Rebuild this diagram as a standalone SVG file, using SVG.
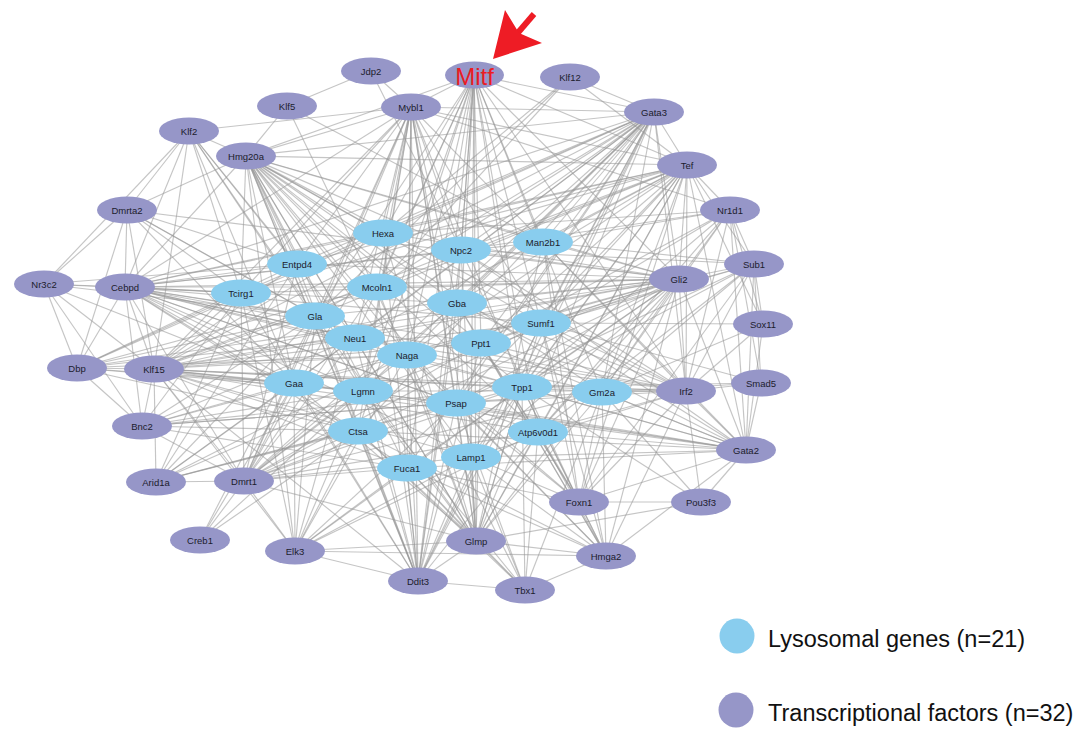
<svg xmlns="http://www.w3.org/2000/svg" width="1082" height="729" viewBox="0 0 1082 729">
<style>
#edges path{stroke:#959595;stroke-opacity:.55;stroke-width:1.15;fill:none}
.tf{fill:#9696c8}
.ly{fill:#89cdee}
.lb{font-family:"Liberation Sans",Arial,sans-serif;font-size:9.5px;fill:#1c1c2c;text-anchor:middle}
.lg{font-family:"Liberation Sans",Arial,sans-serif;font-size:23.5px;fill:#111}
</style>
<rect width="1082" height="729" fill="#fff"/>
<g id="edges">
<path d="M371 71L411 107"/><path d="M371 71L287 106"/><path d="M371 71L461 250"/>
<path d="M474 75L383 233"/><path d="M474 75L461 250"/><path d="M474 75L543 242"/><path d="M474 75L377 287"/><path d="M474 75L457 303"/><path d="M474 75L541 323"/><path d="M474 75L481 343"/><path d="M474 75L407 355"/><path d="M474 75L522 387"/><path d="M474 75L456 403"/><path d="M474 75L358 431"/><path d="M474 75L538 432"/><path d="M474 75L471 457"/><path d="M474 75L407 468"/><path d="M474 75L355 338"/><path d="M474 75L363 391"/><path d="M474 75L602 392"/><path d="M474 75L315 316"/><path d="M474 75L654 112"/><path d="M474 75L687 165"/><path d="M474 75L411 107"/><path d="M474 75L246 156"/><path d="M474 75L679 279"/><path d="M474 75L686 391"/><path d="M474 75L476 541"/><path d="M474 75L418 581"/>
<path d="M570 77L654 112"/><path d="M570 77L377 287"/><path d="M570 77L315 316"/><path d="M570 77L687 165"/><path d="M570 77L383 233"/>
<path d="M287 106L246 156"/><path d="M287 106L543 242"/><path d="M287 106L407 355"/>
<path d="M411 107L189 131"/><path d="M411 107L246 156"/><path d="M411 107L383 233"/><path d="M411 107L297 264"/><path d="M411 107L241 293"/><path d="M411 107L377 287"/><path d="M411 107L315 316"/><path d="M411 107L355 338"/><path d="M411 107L407 355"/><path d="M411 107L457 303"/><path d="M411 107L461 250"/><path d="M411 107L294 383"/><path d="M411 107L363 391"/><path d="M411 107L456 403"/><path d="M411 107L358 431"/><path d="M411 107L407 468"/><path d="M411 107L541 323"/><path d="M411 107L543 242"/><path d="M411 107L522 387"/><path d="M411 107L471 457"/><path d="M411 107L654 112"/><path d="M411 107L687 165"/><path d="M411 107L730 210"/><path d="M411 107L125 287"/><path d="M411 107L154 369"/><path d="M411 107L244 481"/><path d="M411 107L476 541"/><path d="M411 107L418 581"/>
<path d="M654 112L687 165"/><path d="M654 112L246 156"/><path d="M654 112L383 233"/><path d="M654 112L461 250"/><path d="M654 112L543 242"/><path d="M654 112L297 264"/><path d="M654 112L241 293"/><path d="M654 112L377 287"/><path d="M654 112L457 303"/><path d="M654 112L315 316"/><path d="M654 112L541 323"/><path d="M654 112L355 338"/><path d="M654 112L481 343"/><path d="M654 112L407 355"/><path d="M654 112L294 383"/><path d="M654 112L363 391"/><path d="M654 112L522 387"/><path d="M654 112L456 403"/><path d="M654 112L358 431"/><path d="M654 112L471 457"/><path d="M654 112L407 468"/><path d="M654 112L602 392"/><path d="M654 112L125 287"/><path d="M654 112L154 369"/><path d="M654 112L244 481"/><path d="M654 112L679 279"/><path d="M654 112L686 391"/><path d="M654 112L476 541"/><path d="M654 112L418 581"/>
<path d="M189 131L246 156"/><path d="M189 131L127 210"/><path d="M189 131L44 284"/><path d="M189 131L241 293"/><path d="M189 131L297 264"/><path d="M189 131L315 316"/><path d="M189 131L294 383"/><path d="M189 131L355 338"/><path d="M189 131L125 287"/><path d="M189 131L154 369"/><path d="M189 131L363 391"/>
<path d="M246 156L687 165"/><path d="M246 156L383 233"/><path d="M246 156L461 250"/><path d="M246 156L543 242"/><path d="M246 156L297 264"/><path d="M246 156L241 293"/><path d="M246 156L377 287"/><path d="M246 156L457 303"/><path d="M246 156L315 316"/><path d="M246 156L541 323"/><path d="M246 156L355 338"/><path d="M246 156L481 343"/><path d="M246 156L407 355"/><path d="M246 156L294 383"/><path d="M246 156L363 391"/><path d="M246 156L522 387"/><path d="M246 156L602 392"/><path d="M246 156L456 403"/><path d="M246 156L358 431"/><path d="M246 156L538 432"/><path d="M246 156L471 457"/><path d="M246 156L407 468"/><path d="M246 156L679 279"/><path d="M246 156L686 391"/><path d="M246 156L127 210"/><path d="M246 156L125 287"/><path d="M246 156L476 541"/><path d="M246 156L418 581"/><path d="M246 156L295 551"/>
<path d="M687 165L730 210"/><path d="M687 165L679 279"/><path d="M687 165L754 264"/><path d="M687 165L383 233"/><path d="M687 165L461 250"/><path d="M687 165L543 242"/><path d="M687 165L297 264"/><path d="M687 165L377 287"/><path d="M687 165L457 303"/><path d="M687 165L541 323"/><path d="M687 165L481 343"/><path d="M687 165L407 355"/><path d="M687 165L522 387"/><path d="M687 165L602 392"/><path d="M687 165L456 403"/><path d="M687 165L538 432"/><path d="M687 165L471 457"/><path d="M687 165L355 338"/><path d="M687 165L315 316"/><path d="M687 165L686 391"/><path d="M687 165L746 450"/><path d="M687 165L125 287"/><path d="M687 165L241 293"/><path d="M687 165L579 502"/><path d="M687 165L476 541"/>
<path d="M127 210L44 284"/><path d="M127 210L125 287"/><path d="M127 210L297 264"/><path d="M127 210L241 293"/><path d="M127 210L315 316"/><path d="M127 210L355 338"/><path d="M127 210L679 279"/><path d="M127 210L294 383"/><path d="M127 210L77 368"/><path d="M127 210L154 369"/>
<path d="M730 210L754 264"/><path d="M730 210L679 279"/><path d="M730 210L543 242"/><path d="M730 210L541 323"/><path d="M730 210L481 343"/><path d="M730 210L522 387"/><path d="M730 210L602 392"/><path d="M730 210L461 250"/><path d="M730 210L686 391"/><path d="M730 210L746 450"/><path d="M730 210L538 432"/><path d="M730 210L383 233"/>
<path d="M754 264L679 279"/><path d="M754 264L763 324"/><path d="M754 264L761 383"/><path d="M754 264L746 450"/><path d="M754 264L541 323"/><path d="M754 264L543 242"/><path d="M754 264L522 387"/><path d="M754 264L602 392"/><path d="M754 264L481 343"/><path d="M754 264L538 432"/><path d="M754 264L686 391"/><path d="M754 264L579 502"/><path d="M754 264L461 250"/><path d="M754 264L456 403"/>
<path d="M679 279L125 287"/><path d="M679 279L383 233"/><path d="M679 279L461 250"/><path d="M679 279L543 242"/><path d="M679 279L297 264"/><path d="M679 279L241 293"/><path d="M679 279L377 287"/><path d="M679 279L457 303"/><path d="M679 279L315 316"/><path d="M679 279L541 323"/><path d="M679 279L355 338"/><path d="M679 279L481 343"/><path d="M679 279L407 355"/><path d="M679 279L294 383"/><path d="M679 279L363 391"/><path d="M679 279L522 387"/><path d="M679 279L602 392"/><path d="M679 279L456 403"/><path d="M679 279L358 431"/><path d="M679 279L538 432"/><path d="M679 279L471 457"/><path d="M679 279L407 468"/><path d="M679 279L686 391"/><path d="M679 279L746 450"/><path d="M679 279L154 369"/><path d="M679 279L77 368"/><path d="M679 279L476 541"/><path d="M679 279L579 502"/><path d="M679 279L606 556"/>
<path d="M44 284L125 287"/><path d="M44 284L77 368"/><path d="M44 284L154 369"/><path d="M44 284L142 426"/><path d="M44 284L241 293"/><path d="M44 284L297 264"/><path d="M44 284L315 316"/><path d="M44 284L294 383"/>
<path d="M125 287L77 368"/><path d="M125 287L154 369"/><path d="M125 287L142 426"/><path d="M125 287L241 293"/><path d="M125 287L297 264"/><path d="M125 287L383 233"/><path d="M125 287L377 287"/><path d="M125 287L315 316"/><path d="M125 287L355 338"/><path d="M125 287L407 355"/><path d="M125 287L457 303"/><path d="M125 287L461 250"/><path d="M125 287L294 383"/><path d="M125 287L363 391"/><path d="M125 287L456 403"/><path d="M125 287L358 431"/><path d="M125 287L407 468"/><path d="M125 287L471 457"/><path d="M125 287L522 387"/><path d="M125 287L541 323"/><path d="M125 287L481 343"/><path d="M125 287L543 242"/><path d="M125 287L602 392"/><path d="M125 287L538 432"/><path d="M125 287L244 481"/><path d="M125 287L686 391"/>
<path d="M763 324L541 323"/><path d="M763 324L686 391"/><path d="M763 324L746 450"/><path d="M763 324L687 165"/><path d="M763 324L730 210"/><path d="M763 324L602 392"/>
<path d="M77 368L154 369"/><path d="M77 368L142 426"/><path d="M77 368L241 293"/><path d="M77 368L297 264"/><path d="M77 368L315 316"/><path d="M77 368L355 338"/><path d="M77 368L294 383"/><path d="M77 368L363 391"/><path d="M77 368L407 355"/><path d="M77 368L383 233"/><path d="M77 368L377 287"/><path d="M77 368L358 431"/>
<path d="M154 369L142 426"/><path d="M154 369L241 293"/><path d="M154 369L297 264"/><path d="M154 369L383 233"/><path d="M154 369L377 287"/><path d="M154 369L315 316"/><path d="M154 369L355 338"/><path d="M154 369L407 355"/><path d="M154 369L457 303"/><path d="M154 369L461 250"/><path d="M154 369L294 383"/><path d="M154 369L363 391"/><path d="M154 369L456 403"/><path d="M154 369L358 431"/><path d="M154 369L407 468"/><path d="M154 369L471 457"/><path d="M154 369L522 387"/><path d="M154 369L541 323"/><path d="M154 369L481 343"/><path d="M154 369L602 392"/><path d="M154 369L538 432"/><path d="M154 369L686 391"/><path d="M154 369L746 450"/><path d="M154 369L244 481"/><path d="M154 369L156 482"/><path d="M154 369L295 551"/>
<path d="M761 383L746 450"/><path d="M761 383L686 391"/><path d="M761 383L602 392"/><path d="M761 383L541 323"/><path d="M761 383L522 387"/><path d="M761 383L730 210"/>
<path d="M686 391L701 502"/><path d="M686 391L746 450"/><path d="M686 391L543 242"/><path d="M686 391L541 323"/><path d="M686 391L481 343"/><path d="M686 391L522 387"/><path d="M686 391L602 392"/><path d="M686 391L456 403"/><path d="M686 391L538 432"/><path d="M686 391L471 457"/><path d="M686 391L457 303"/><path d="M686 391L461 250"/><path d="M686 391L407 355"/><path d="M686 391L579 502"/><path d="M686 391L606 556"/><path d="M686 391L355 338"/><path d="M686 391L363 391"/>
<path d="M142 426L241 293"/><path d="M142 426L315 316"/><path d="M142 426L294 383"/><path d="M142 426L363 391"/><path d="M142 426L355 338"/><path d="M142 426L407 355"/><path d="M142 426L358 431"/><path d="M142 426L456 403"/><path d="M142 426L522 387"/><path d="M142 426L602 392"/><path d="M142 426L407 468"/><path d="M142 426L244 481"/>
<path d="M746 450L701 502"/><path d="M746 450L579 502"/><path d="M746 450L543 242"/><path d="M746 450L541 323"/><path d="M746 450L481 343"/><path d="M746 450L522 387"/><path d="M746 450L602 392"/><path d="M746 450L456 403"/><path d="M746 450L538 432"/><path d="M746 450L471 457"/><path d="M746 450L457 303"/><path d="M746 450L461 250"/><path d="M746 450L407 355"/><path d="M746 450L363 391"/><path d="M746 450L407 468"/><path d="M746 450L358 431"/><path d="M746 450L606 556"/><path d="M746 450L294 383"/>
<path d="M244 481L156 482"/><path d="M244 481L200 540"/><path d="M244 481L295 551"/><path d="M244 481L241 293"/><path d="M244 481L297 264"/><path d="M244 481L315 316"/><path d="M244 481L355 338"/><path d="M244 481L407 355"/><path d="M244 481L294 383"/><path d="M244 481L363 391"/><path d="M244 481L456 403"/><path d="M244 481L358 431"/><path d="M244 481L407 468"/><path d="M244 481L471 457"/><path d="M244 481L522 387"/><path d="M244 481L602 392"/><path d="M244 481L538 432"/><path d="M244 481L541 323"/><path d="M244 481L481 343"/><path d="M244 481L457 303"/><path d="M244 481L377 287"/><path d="M244 481L383 233"/><path d="M244 481L476 541"/>
<path d="M156 482L294 383"/><path d="M156 482L315 316"/><path d="M156 482L241 293"/><path d="M156 482L355 338"/><path d="M156 482L363 391"/><path d="M156 482L358 431"/><path d="M156 482L407 355"/><path d="M156 482L456 403"/><path d="M156 482L522 387"/><path d="M156 482L297 264"/>
<path d="M579 502L606 556"/><path d="M579 502L701 502"/><path d="M579 502L541 323"/><path d="M579 502L522 387"/><path d="M579 502L538 432"/><path d="M579 502L602 392"/><path d="M579 502L456 403"/><path d="M579 502L481 343"/><path d="M579 502L471 457"/><path d="M579 502L407 355"/><path d="M579 502L407 468"/><path d="M579 502L543 242"/><path d="M579 502L461 250"/><path d="M579 502L457 303"/>
<path d="M701 502L602 392"/><path d="M701 502L522 387"/><path d="M701 502L476 541"/>
<path d="M200 540L294 383"/><path d="M200 540L358 431"/><path d="M200 540L363 391"/><path d="M200 540L315 316"/>
<path d="M476 541L525 590"/><path d="M476 541L606 556"/><path d="M476 541L295 551"/><path d="M476 541L418 581"/><path d="M476 541L471 457"/><path d="M476 541L407 468"/><path d="M476 541L456 403"/><path d="M476 541L358 431"/><path d="M476 541L363 391"/><path d="M476 541L538 432"/><path d="M476 541L522 387"/><path d="M476 541L407 355"/><path d="M476 541L481 343"/><path d="M476 541L457 303"/><path d="M476 541L355 338"/><path d="M476 541L294 383"/><path d="M476 541L541 323"/><path d="M476 541L461 250"/><path d="M476 541L377 287"/><path d="M476 541L383 233"/><path d="M476 541L315 316"/><path d="M476 541L602 392"/><path d="M476 541L543 242"/>
<path d="M295 551L606 556"/><path d="M295 551L418 581"/><path d="M295 551L294 383"/><path d="M295 551L358 431"/><path d="M295 551L407 468"/><path d="M295 551L363 391"/><path d="M295 551L471 457"/><path d="M295 551L456 403"/><path d="M295 551L407 355"/><path d="M295 551L355 338"/><path d="M295 551L315 316"/><path d="M295 551L241 293"/><path d="M295 551L522 387"/><path d="M295 551L538 432"/>
<path d="M606 556L525 590"/><path d="M606 556L538 432"/><path d="M606 556L522 387"/><path d="M606 556L456 403"/><path d="M606 556L471 457"/><path d="M606 556L541 323"/><path d="M606 556L481 343"/><path d="M606 556L602 392"/><path d="M606 556L407 355"/><path d="M606 556L407 468"/><path d="M606 556L358 431"/><path d="M606 556L457 303"/><path d="M606 556L543 242"/>
<path d="M418 581L525 590"/><path d="M418 581L407 468"/><path d="M418 581L471 457"/><path d="M418 581L358 431"/><path d="M418 581L456 403"/><path d="M418 581L363 391"/><path d="M418 581L407 355"/><path d="M418 581L355 338"/><path d="M418 581L294 383"/><path d="M418 581L315 316"/><path d="M418 581L522 387"/><path d="M418 581L538 432"/><path d="M418 581L481 343"/><path d="M418 581L457 303"/><path d="M418 581L377 287"/><path d="M418 581L383 233"/><path d="M418 581L297 264"/><path d="M418 581L241 293"/><path d="M418 581L461 250"/><path d="M418 581L541 323"/><path d="M418 581L154 369"/>
<path d="M525 590L471 457"/><path d="M525 590L538 432"/><path d="M525 590L522 387"/><path d="M525 590L456 403"/><path d="M525 590L407 468"/><path d="M525 590L358 431"/><path d="M525 590L407 355"/><path d="M525 590L363 391"/><path d="M525 590L602 392"/>
</g>
<g id="node-Hexa"><ellipse class="ly" cx="383" cy="233" rx="30" ry="13.5"/><text class="lb" x="383" y="236.5">Hexa</text></g>
<g id="node-Npc2"><ellipse class="ly" cx="461" cy="250" rx="30" ry="13.5"/><text class="lb" x="461" y="253.5">Npc2</text></g>
<g id="node-Man2b1"><ellipse class="ly" cx="543" cy="242" rx="30" ry="13.5"/><text class="lb" x="543" y="245.5">Man2b1</text></g>
<g id="node-Entpd4"><ellipse class="ly" cx="297" cy="264" rx="30" ry="13.5"/><text class="lb" x="297" y="267.5">Entpd4</text></g>
<g id="node-Tcirg1"><ellipse class="ly" cx="241" cy="293" rx="30" ry="13.5"/><text class="lb" x="241" y="296.5">Tcirg1</text></g>
<g id="node-Mcoln1"><ellipse class="ly" cx="377" cy="287" rx="30" ry="13.5"/><text class="lb" x="377" y="290.5">Mcoln1</text></g>
<g id="node-Gba"><ellipse class="ly" cx="457" cy="303" rx="30" ry="13.5"/><text class="lb" x="457" y="306.5">Gba</text></g>
<g id="node-Gla"><ellipse class="ly" cx="315" cy="316" rx="30" ry="13.5"/><text class="lb" x="315" y="319.5">Gla</text></g>
<g id="node-Sumf1"><ellipse class="ly" cx="541" cy="323" rx="30" ry="13.5"/><text class="lb" x="541" y="326.5">Sumf1</text></g>
<g id="node-Neu1"><ellipse class="ly" cx="355" cy="338" rx="30" ry="13.5"/><text class="lb" x="355" y="341.5">Neu1</text></g>
<g id="node-Ppt1"><ellipse class="ly" cx="481" cy="343" rx="30" ry="13.5"/><text class="lb" x="481" y="346.5">Ppt1</text></g>
<g id="node-Naga"><ellipse class="ly" cx="407" cy="355" rx="30" ry="13.5"/><text class="lb" x="407" y="358.5">Naga</text></g>
<g id="node-Gaa"><ellipse class="ly" cx="294" cy="383" rx="30" ry="13.5"/><text class="lb" x="294" y="386.5">Gaa</text></g>
<g id="node-Lgmn"><ellipse class="ly" cx="363" cy="391" rx="30" ry="13.5"/><text class="lb" x="363" y="394.5">Lgmn</text></g>
<g id="node-Tpp1"><ellipse class="ly" cx="522" cy="387" rx="30" ry="13.5"/><text class="lb" x="522" y="390.5">Tpp1</text></g>
<g id="node-Gm2a"><ellipse class="ly" cx="602" cy="392" rx="30" ry="13.5"/><text class="lb" x="602" y="395.5">Gm2a</text></g>
<g id="node-Psap"><ellipse class="ly" cx="456" cy="403" rx="30" ry="13.5"/><text class="lb" x="456" y="406.5">Psap</text></g>
<g id="node-Ctsa"><ellipse class="ly" cx="358" cy="431" rx="30" ry="13.5"/><text class="lb" x="358" y="434.5">Ctsa</text></g>
<g id="node-Atp6v0d1"><ellipse class="ly" cx="538" cy="432" rx="30" ry="13.5"/><text class="lb" x="538" y="435.5">Atp6v0d1</text></g>
<g id="node-Lamp1"><ellipse class="ly" cx="471" cy="457" rx="30" ry="13.5"/><text class="lb" x="471" y="460.5">Lamp1</text></g>
<g id="node-Fuca1"><ellipse class="ly" cx="407" cy="468" rx="30" ry="13.5"/><text class="lb" x="407" y="471.5">Fuca1</text></g>
<g id="node-Jdp2"><ellipse class="tf" cx="371" cy="71" rx="30" ry="13.5"/><text class="lb" x="371" y="74.5">Jdp2</text></g>
<g id="node-Mitf"><ellipse class="tf" cx="474.5" cy="75" rx="29.5" ry="13.5"/><text x="474.5" y="84.5" font-family="Liberation Sans, Arial, sans-serif" font-size="24" fill="#ea1c24" text-anchor="middle">Mitf</text></g>
<g id="node-Klf12"><ellipse class="tf" cx="570" cy="77" rx="30" ry="13.5"/><text class="lb" x="570" y="80.5">Klf12</text></g>
<g id="node-Klf5"><ellipse class="tf" cx="287" cy="106" rx="30" ry="13.5"/><text class="lb" x="287" y="109.5">Klf5</text></g>
<g id="node-Mybl1"><ellipse class="tf" cx="411" cy="107" rx="30" ry="13.5"/><text class="lb" x="411" y="110.5">Mybl1</text></g>
<g id="node-Gata3"><ellipse class="tf" cx="654" cy="112" rx="30" ry="13.5"/><text class="lb" x="654" y="115.5">Gata3</text></g>
<g id="node-Klf2"><ellipse class="tf" cx="189" cy="131" rx="30" ry="13.5"/><text class="lb" x="189" y="134.5">Klf2</text></g>
<g id="node-Hmg20a"><ellipse class="tf" cx="246" cy="156" rx="30" ry="13.5"/><text class="lb" x="246" y="159.5">Hmg20a</text></g>
<g id="node-Tef"><ellipse class="tf" cx="687" cy="165" rx="30" ry="13.5"/><text class="lb" x="687" y="168.5">Tef</text></g>
<g id="node-Dmrta2"><ellipse class="tf" cx="127" cy="210" rx="30" ry="13.5"/><text class="lb" x="127" y="213.5">Dmrta2</text></g>
<g id="node-Nr1d1"><ellipse class="tf" cx="730" cy="210" rx="30" ry="13.5"/><text class="lb" x="730" y="213.5">Nr1d1</text></g>
<g id="node-Sub1"><ellipse class="tf" cx="754" cy="264" rx="30" ry="13.5"/><text class="lb" x="754" y="267.5">Sub1</text></g>
<g id="node-Gli2"><ellipse class="tf" cx="679" cy="279" rx="30" ry="13.5"/><text class="lb" x="679" y="282.5">Gli2</text></g>
<g id="node-Nr3c2"><ellipse class="tf" cx="44" cy="284" rx="30" ry="13.5"/><text class="lb" x="44" y="287.5">Nr3c2</text></g>
<g id="node-Cebpd"><ellipse class="tf" cx="125" cy="287" rx="30" ry="13.5"/><text class="lb" x="125" y="290.5">Cebpd</text></g>
<g id="node-Sox11"><ellipse class="tf" cx="763" cy="324" rx="30" ry="13.5"/><text class="lb" x="763" y="327.5">Sox11</text></g>
<g id="node-Dbp"><ellipse class="tf" cx="77" cy="368" rx="30" ry="13.5"/><text class="lb" x="77" y="371.5">Dbp</text></g>
<g id="node-Klf15"><ellipse class="tf" cx="154" cy="369" rx="30" ry="13.5"/><text class="lb" x="154" y="372.5">Klf15</text></g>
<g id="node-Smad5"><ellipse class="tf" cx="761" cy="383" rx="30" ry="13.5"/><text class="lb" x="761" y="386.5">Smad5</text></g>
<g id="node-Irf2"><ellipse class="tf" cx="686" cy="391" rx="30" ry="13.5"/><text class="lb" x="686" y="394.5">Irf2</text></g>
<g id="node-Bnc2"><ellipse class="tf" cx="142" cy="426" rx="30" ry="13.5"/><text class="lb" x="142" y="429.5">Bnc2</text></g>
<g id="node-Gata2"><ellipse class="tf" cx="746" cy="450" rx="30" ry="13.5"/><text class="lb" x="746" y="453.5">Gata2</text></g>
<g id="node-Dmrt1"><ellipse class="tf" cx="244" cy="481" rx="30" ry="13.5"/><text class="lb" x="244" y="484.5">Dmrt1</text></g>
<g id="node-Arid1a"><ellipse class="tf" cx="156" cy="482" rx="30" ry="13.5"/><text class="lb" x="156" y="485.5">Arid1a</text></g>
<g id="node-Foxn1"><ellipse class="tf" cx="579" cy="502" rx="30" ry="13.5"/><text class="lb" x="579" y="505.5">Foxn1</text></g>
<g id="node-Pou3f3"><ellipse class="tf" cx="701" cy="502" rx="30" ry="13.5"/><text class="lb" x="701" y="505.5">Pou3f3</text></g>
<g id="node-Creb1"><ellipse class="tf" cx="200" cy="540" rx="30" ry="13.5"/><text class="lb" x="200" y="543.5">Creb1</text></g>
<g id="node-Glmp"><ellipse class="tf" cx="476" cy="541" rx="30" ry="13.5"/><text class="lb" x="476" y="544.5">Glmp</text></g>
<g id="node-Elk3"><ellipse class="tf" cx="295" cy="551" rx="30" ry="13.5"/><text class="lb" x="295" y="554.5">Elk3</text></g>
<g id="node-Hmga2"><ellipse class="tf" cx="606" cy="556" rx="30" ry="13.5"/><text class="lb" x="606" y="559.5">Hmga2</text></g>
<g id="node-Ddit3"><ellipse class="tf" cx="418" cy="581" rx="30" ry="13.5"/><text class="lb" x="418" y="584.5">Ddit3</text></g>
<g id="node-Tbx1"><ellipse class="tf" cx="525" cy="590" rx="30" ry="13.5"/><text class="lb" x="525" y="593.5">Tbx1</text></g>
<g id="arrow">
<line x1="534" y1="14" x2="516" y2="35" stroke="#ee1c25" stroke-width="6"/>
<polygon points="493,59 505,10 519,33 542,43" fill="#ee1c25"/>
</g>
<g id="legend">
<circle cx="737" cy="636" r="17.5" class="ly"/>
<text class="lg" x="768" y="647">Lysosomal genes (n=21)</text>
<circle cx="736" cy="710" r="17.5" class="tf"/>
<text class="lg" x="768" y="721">Transcriptional factors (n=32)</text>
</g>
</svg>
